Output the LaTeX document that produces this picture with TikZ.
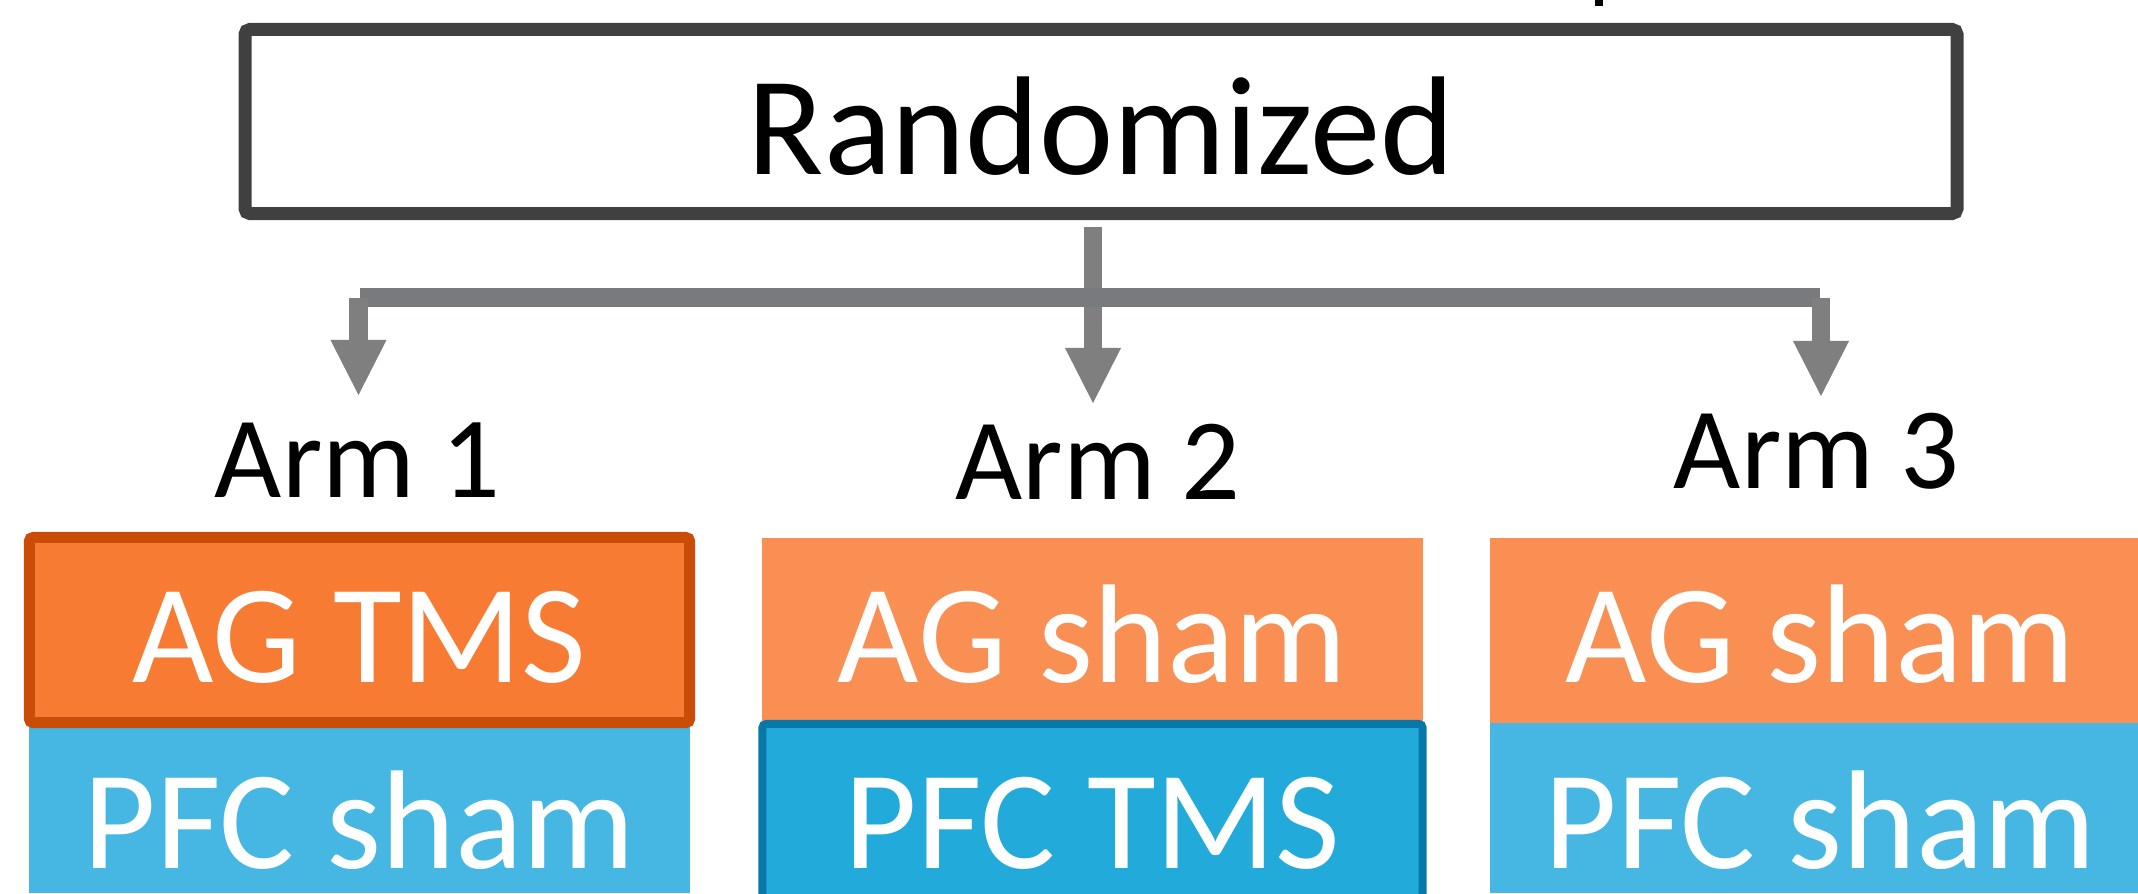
\documentclass[tikz,border=0pt]{standalone}
\usepackage{fontspec}
\setmainfont{Carlito}
\usetikzlibrary{arrows.meta}

\definecolor{boxgray}{HTML}{404040}
\definecolor{arrowgray}{HTML}{7F7F7F}
\definecolor{bargray}{HTML}{797A7E}
\definecolor{tmsorange}{HTML}{F87B34}
\definecolor{tmsedge}{HTML}{C94C07}
\definecolor{shamorange}{HTML}{F98F53}
\definecolor{shamblue}{HTML}{45B7E2}
\definecolor{tmsblue}{HTML}{22AADB}
\definecolor{tmsblueedge}{HTML}{0878A8}

\begin{document}
\begin{tikzpicture}[x=0.01cm,y=-0.01cm,
  armbox/.style={inner sep=0pt,minimum width=6.6cm,minimum height=1.85cm,text=white,
    text height=1.04cm,text depth=0pt,font=\fontsize{40}{48}\selectfont},
  pfcbox/.style={armbox,minimum height=1.70cm,text height=1.20cm},
  armlabel/.style={anchor=base,inner sep=0pt,font=\fontsize{33}{40}\selectfont},
  drop/.style={draw=arrowgray,line width=0.185cm,
    -{Triangle[length=0.55cm,width=0.56cm,line width=0pt]}}]
\useasboundingbox (0,0) rectangle (2138,893);
\clip (0,0) rectangle (2138,893);

% Cut-off mark at the top
\fill[black] (1595,0) rectangle (1603,6);

% Randomized box
\node[draw=boxgray,line width=0.13cm,rounded corners=0.5mm,inner sep=0pt,
  minimum width=17.11cm,minimum height=1.84cm,text height=1.05cm,text depth=0pt,
  font=\fontsize{40}{48}\selectfont] (rand) at (1101,121.5) {Randomized};

% Arm labels
\node[armlabel] (arm1) at (357.5,497) {Arm 1};
\node[armlabel] (arm2) at (1098,499) {Arm 2};
\node[armlabel] (arm3) at (1816.5,488) {Arm 3};

% Arrow tips
\coordinate (tip1) at (358.5,395);
\coordinate (tip2) at (1093,403);
\coordinate (tip3) at (1821,396);
\coordinate (barL) at (360,297.5);
\coordinate (barR) at (1820,297.5);

% Connectors
\draw[drop,shorten <=0.065cm] (rand.south -| tip2) -- (tip2);
\draw[bargray,line width=0.19cm] (barL) -- (barR);
\draw[drop] (tip1 |- barL) -- (tip1);
\draw[drop] (tip3 |- barR) -- (tip3);

% Arm 1
\node[pfcbox,fill=shamblue] (pfc1) at (359.5,808) {PFC sham};
\node[armbox,fill=tmsorange,draw=tmsedge,line width=0.11cm,rounded corners=0.4mm] (ag1) at (359.5,630) {AG TMS};

% Arm 2
\node[armbox,fill=shamorange] (ag2) at (1092.5,630.5) {AG sham};
\node[pfcbox,fill=tmsblue,draw=tmsblueedge,line width=0.08cm,rounded corners=0.4mm,
  minimum height=1.74cm,text height=1.14cm] (pfc2) at (1092.5,811) {PFC TMS};

% Arm 3
\node[armbox,fill=shamorange] (ag3) at (1820.5,630.5) {AG sham};
\node[pfcbox,fill=shamblue] (pfc3) at (1820.5,808) {PFC sham};

\end{tikzpicture}
\end{document}
